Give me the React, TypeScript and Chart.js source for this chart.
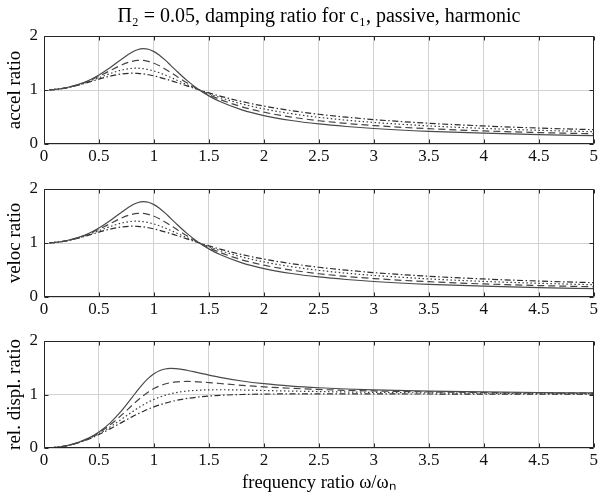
import React, { useEffect, useRef } from 'react';
import { Chart, registerables } from 'chart.js';

Chart.register(...registerables);

const FONT = "'Liberation Serif', 'Times New Roman', serif";

// frequency ratio ω/ωn sample points (x axis)
const freq = [0.05, 0.1, 0.2, 0.3, 0.4, 0.5, 0.6, 0.7, 0.8, 0.85, 0.9, 0.95, 1.0, 1.05, 1.1, 1.15, 1.2, 1.3, 1.4, 1.5, 1.6, 1.8, 2.0, 2.25, 2.5, 2.75, 3.0, 3.5, 4.0, 4.5, 5.0];

// accel ratio (top panel)
const accelSolid = [1.003, 1.010, 1.041, 1.094, 1.172, 1.278, 1.411, 1.562, 1.699, 1.745, 1.765, 1.754, 1.711, 1.643, 1.557, 1.461, 1.363, 1.178, 1.020, 0.891, 0.787, 0.633, 0.527, 0.435, 0.371, 0.324, 0.287, 0.235, 0.200, 0.174, 0.154];
const accelDashed = [1.003, 1.010, 1.040, 1.091, 1.163, 1.254, 1.357, 1.458, 1.531, 1.547, 1.547, 1.529, 1.495, 1.448, 1.390, 1.328, 1.262, 1.133, 1.016, 0.913, 0.826, 0.689, 0.589, 0.498, 0.431, 0.381, 0.341, 0.283, 0.242, 0.212, 0.189];
const accelDotted = [1.002, 1.010, 1.040, 1.088, 1.152, 1.227, 1.303, 1.367, 1.401, 1.404, 1.396, 1.378, 1.352, 1.318, 1.278, 1.235, 1.190, 1.099, 1.012, 0.932, 0.861, 0.742, 0.650, 0.561, 0.494, 0.441, 0.399, 0.335, 0.289, 0.254, 0.227];
const accelDashDot = [1.002, 1.010, 1.039, 1.084, 1.141, 1.202, 1.257, 1.296, 1.311, 1.308, 1.299, 1.283, 1.262, 1.236, 1.207, 1.176, 1.143, 1.076, 1.009, 0.946, 0.888, 0.786, 0.702, 0.618, 0.551, 0.497, 0.452, 0.384, 0.334, 0.295, 0.265];

// veloc ratio (middle panel) – reads the same as the accel panel
const velocSolid = [1.003, 1.010, 1.041, 1.094, 1.172, 1.278, 1.411, 1.562, 1.699, 1.745, 1.765, 1.754, 1.711, 1.643, 1.557, 1.461, 1.363, 1.178, 1.020, 0.891, 0.787, 0.633, 0.527, 0.435, 0.371, 0.324, 0.287, 0.235, 0.200, 0.174, 0.154];
const velocDashed = [1.003, 1.010, 1.040, 1.091, 1.163, 1.254, 1.357, 1.458, 1.531, 1.547, 1.547, 1.529, 1.495, 1.448, 1.390, 1.328, 1.262, 1.133, 1.016, 0.913, 0.826, 0.689, 0.589, 0.498, 0.431, 0.381, 0.341, 0.283, 0.242, 0.212, 0.189];
const velocDotted = [1.002, 1.010, 1.040, 1.088, 1.152, 1.227, 1.303, 1.367, 1.401, 1.404, 1.396, 1.378, 1.352, 1.318, 1.278, 1.235, 1.190, 1.099, 1.012, 0.932, 0.861, 0.742, 0.650, 0.561, 0.494, 0.441, 0.399, 0.335, 0.289, 0.254, 0.227];
const velocDashDot = [1.002, 1.010, 1.039, 1.084, 1.141, 1.202, 1.257, 1.296, 1.311, 1.308, 1.299, 1.283, 1.262, 1.236, 1.207, 1.176, 1.143, 1.076, 1.009, 0.946, 0.888, 0.786, 0.702, 0.618, 0.551, 0.497, 0.452, 0.384, 0.334, 0.295, 0.265];

// rel. displ. ratio (bottom panel)
const displSolid = [0.003, 0.010, 0.041, 0.096, 0.180, 0.301, 0.466, 0.683, 0.942, 1.075, 1.200, 1.306, 1.389, 1.445, 1.477, 1.488, 1.485, 1.453, 1.408, 1.362, 1.320, 1.252, 1.202, 1.158, 1.126, 1.103, 1.086, 1.063, 1.048, 1.037, 1.030];
const displDashed = [0.003, 0.010, 0.041, 0.095, 0.175, 0.286, 0.430, 0.605, 0.795, 0.888, 0.974, 1.049, 1.111, 1.160, 1.196, 1.220, 1.235, 1.244, 1.237, 1.223, 1.206, 1.172, 1.143, 1.115, 1.094, 1.078, 1.066, 1.049, 1.037, 1.029, 1.024];
const displDotted = [0.003, 0.010, 0.041, 0.093, 0.169, 0.269, 0.392, 0.531, 0.673, 0.741, 0.804, 0.860, 0.909, 0.951, 0.985, 1.013, 1.035, 1.064, 1.080, 1.087, 1.089, 1.084, 1.075, 1.064, 1.055, 1.047, 1.040, 1.030, 1.024, 1.019, 1.015];
const displDashDot = [0.003, 0.010, 0.040, 0.091, 0.162, 0.252, 0.357, 0.470, 0.582, 0.634, 0.683, 0.729, 0.769, 0.805, 0.837, 0.865, 0.888, 0.926, 0.953, 0.971, 0.985, 1.000, 1.008, 1.011, 1.012, 1.012, 1.011, 1.009, 1.008, 1.007, 1.005];

const seriesNames = ['solid', 'dashed', 'dotted', 'dash-dot'];
const titleText = 'Π₂ = 0.05, damping ratio for c₁, passive, harmonic';
const xLabelText = 'frequency ratio ω/ωₙ';
const yLabels = ['accel ratio', 'veloc ratio', 'rel. displ. ratio'];

const LINE_STYLES = [
  { color: '#4a4a4a', dash: [] as number[] },
  { color: '#444444', dash: [7, 4] },
  { color: '#3a3a3a', dash: [1.5, 2.5] },
  { color: '#2e2e2e', dash: [6, 2.5, 1.5, 2.5] },
];

const fmtTick = (v: any) => String(Math.round(Number(v) * 10) / 10);

const framePlugin = {
  id: 'matlabFrame',
  afterDatasetsDraw(chart: any) {
    const { ctx, chartArea } = chart;
    const { left, right, top, bottom } = chartArea;
    const xs = chart.scales.x;
    const ys = chart.scales.y;
    const a = (v: number) => Math.round(v) + 0.5;
    ctx.save();
    ctx.strokeStyle = '#262626';
    ctx.lineWidth = 1;
    ctx.setLineDash([]);
    ctx.beginPath();
    ctx.rect(a(left), a(top), Math.round(right) - Math.round(left) - 1, Math.round(bottom) - Math.round(top) - 1);
    ctx.stroke();
    const L = 4;
    ctx.beginPath();
    xs.ticks.forEach((t: any) => {
      const p = a(xs.getPixelForValue(t.value));
      ctx.moveTo(p, a(bottom) - 1);
      ctx.lineTo(p, a(bottom) - 1 - L);
      ctx.moveTo(p, a(top));
      ctx.lineTo(p, a(top) + L);
    });
    ys.ticks.forEach((t: any) => {
      const p = a(ys.getPixelForValue(t.value));
      ctx.moveTo(a(left), p);
      ctx.lineTo(a(left) + L, p);
      ctx.moveTo(a(right) - 1, p);
      ctx.lineTo(a(right) - 1 - L, p);
    });
    ctx.stroke();
    ctx.restore();
  },
};

function makeConfig(series: number[][], yLabel: string, padTop: number, axisH: number, withTitle: boolean, withXLabel: boolean): any {
  return {
    type: 'line',
    data: {
      datasets: series.map((vals, k) => ({
        label: seriesNames[k],
        data: freq.map((x, i) => ({ x, y: vals[i] })),
        borderColor: LINE_STYLES[k].color,
        borderDash: LINE_STYLES[k].dash,
        borderWidth: 1.2,
        pointRadius: 0,
        fill: false,
        cubicInterpolationMode: 'monotone',
      })),
    },
    options: {
      responsive: false,
      animation: false,
      events: [],
      layout: { padding: { top: padTop, right: 5, left: 0, bottom: 0 } },
      plugins: {
        legend: { display: false },
        tooltip: { enabled: false },
        title: withTitle
          ? {
              display: true,
              fullSize: false,
              text: titleText,
              color: '#000',
              font: { family: FONT, size: 20, weight: 'normal', lineHeight: 1.2 },
              padding: { top: 5, bottom: 7 },
            }
          : { display: false },
      },
      scales: {
        x: {
          type: 'linear',
          min: 0,
          max: 5,
          afterFit: (s: any) => { s.height = axisH; },
          ticks: { stepSize: 0.5, autoSkip: false, maxRotation: 0, color: '#111', padding: 2, font: { family: FONT, size: 17 }, callback: fmtTick },
          grid: { color: '#d2d2d2', drawTicks: false },
          border: { display: false },
          title: withXLabel
            ? { display: true, text: xLabelText, color: '#000', font: { family: FONT, size: 18.5, lineHeight: 1.2 }, padding: { top: 0, bottom: 9 } }
            : { display: false },
        },
        y: {
          min: 0,
          max: 2,
          afterFit: (s: any) => { s.width = 44; },
          ticks: { stepSize: 1, color: '#111', padding: 6, font: { family: FONT, size: 17 }, callback: fmtTick },
          grid: { color: '#d2d2d2', drawTicks: false },
          border: { display: false },
          title: { display: true, text: yLabel, color: '#000', font: { family: FONT, size: 19, lineHeight: 1.2 }, padding: { top: 4, bottom: 0 } },
        },
      },
    },
    plugins: [framePlugin],
  };
}

export default function App() {
  const r1 = useRef<HTMLCanvasElement>(null);
  const r2 = useRef<HTMLCanvasElement>(null);
  const r3 = useRef<HTMLCanvasElement>(null);

  useEffect(() => {
    const c1 = new Chart(r1.current as HTMLCanvasElement, makeConfig([accelSolid, accelDashed, accelDotted, accelDashDot], yLabels[0], 0, 26, true, false));
    const c2 = new Chart(r2.current as HTMLCanvasElement, makeConfig([velocSolid, velocDashed, velocDotted, velocDashDot], yLabels[1], 19, 26, false, false));
    const c3 = new Chart(r3.current as HTMLCanvasElement, makeConfig([displSolid, displDashed, displDotted, displDashDot], yLabels[2], 18, 55, false, true));
    return () => {
      c1.destroy();
      c2.destroy();
      c3.destroy();
    };
  }, []);

  return (
    <div style={{ position: 'absolute', left: 0, top: 0, width: 600, height: 503, background: '#fff' }}>
      <canvas ref={r1} width={600} height={170} style={{ position: 'absolute', left: 0, top: 0 }} />
      <canvas ref={r2} width={600} height={153} style={{ position: 'absolute', left: 0, top: 170 }} />
      <canvas ref={r3} width={600} height={180} style={{ position: 'absolute', left: 0, top: 323 }} />
    </div>
  );
}
